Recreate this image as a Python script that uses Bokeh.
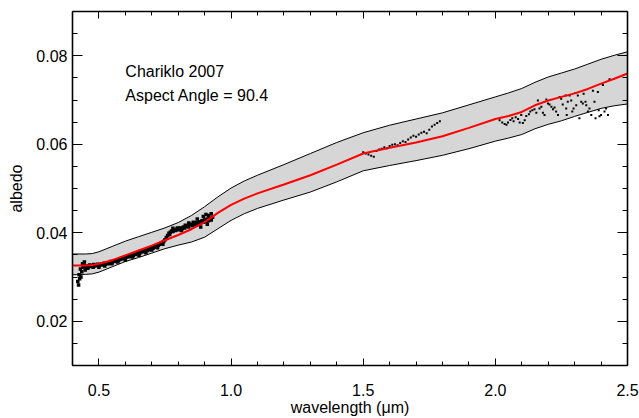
from bokeh.plotting import figure
from bokeh.models import LinearAxis, FixedTicker, PrintfTickFormatter, Label, Range1d
from bokeh.embed import file_html
from bokeh.resources import INLINE

# ---------------- data ----------------
# model curve nodes (wavelength, micron)
model_wl = [0.40, 0.45, 0.475, 0.50, 0.55, 0.60, 0.65, 0.70, 0.75, 0.80, 0.85, 0.90,
            0.95, 1.00, 1.05, 1.10, 1.20, 1.30, 1.40, 1.50, 1.60, 1.70, 1.80, 1.90,
            2.00, 2.05, 2.10, 2.15, 2.20, 2.25, 2.30, 2.35, 2.40, 2.45, 2.50]
model_albedo = [0.0326, 0.0326, 0.0327, 0.0330, 0.0338, 0.0349, 0.0360, 0.0371, 0.0383,
                0.0395, 0.0408, 0.0424, 0.0445, 0.0463, 0.0477, 0.0489, 0.0509, 0.0530,
                0.0554, 0.0579, 0.0592, 0.0604, 0.0618, 0.0637, 0.0657, 0.0664, 0.0673,
                0.0688, 0.0699, 0.0707, 0.0715, 0.0725, 0.0737, 0.0748, 0.0760]
upper_albedo = [0.0352, 0.0352, 0.0353, 0.0357, 0.0369, 0.0381, 0.0391, 0.0401, 0.0411,
                0.0423, 0.0439, 0.0459, 0.0481, 0.0501, 0.0517, 0.0530, 0.0554, 0.0579,
                0.0604, 0.0626, 0.0643, 0.0657, 0.0671, 0.0689, 0.0707, 0.0716, 0.0726,
                0.0740, 0.0752, 0.0761, 0.0770, 0.0781, 0.0792, 0.0801, 0.0809]
lower_albedo = [0.0305, 0.0306, 0.0307, 0.0311, 0.0323, 0.0335, 0.0344, 0.0354, 0.0364,
                0.0372, 0.0379, 0.0390, 0.0409, 0.0428, 0.0443, 0.0455, 0.0474, 0.0492,
                0.0515, 0.0540, 0.0552, 0.0563, 0.0575, 0.0590, 0.0607, 0.0614, 0.0622,
                0.0635, 0.0645, 0.0653, 0.0663, 0.0672, 0.0681, 0.0687, 0.0691]

# visible spectrum (dense)
vis_wl = [0.420, 0.425, 0.430, 0.435, 0.440, 0.445, 0.450, 0.455, 0.460, 0.465, 0.470,
          0.475, 0.480, 0.485, 0.490, 0.495, 0.500, 0.505, 0.510, 0.515, 0.520, 0.525,
          0.530, 0.535, 0.540, 0.545, 0.550, 0.555, 0.560, 0.565, 0.570, 0.575, 0.580,
          0.585, 0.590, 0.595, 0.600, 0.605, 0.610, 0.615, 0.620, 0.625, 0.630, 0.635,
          0.640, 0.645, 0.650, 0.655, 0.660, 0.665, 0.670, 0.675, 0.680, 0.685, 0.690,
          0.695, 0.700, 0.705, 0.710, 0.715, 0.720, 0.725, 0.730, 0.735, 0.740, 0.745,
          0.750, 0.755, 0.760, 0.765, 0.770, 0.775, 0.780, 0.785, 0.790, 0.795, 0.800,
          0.805, 0.810, 0.815, 0.820, 0.825, 0.830, 0.835, 0.840, 0.845, 0.850, 0.855,
          0.860, 0.865, 0.870, 0.875, 0.880, 0.885, 0.890, 0.895, 0.900, 0.905, 0.910,
          0.915, 0.920, 0.925, 0.930,
          0.423, 0.427, 0.432, 0.438, 0.445, 0.448, 0.458, 0.478, 0.500, 0.522, 0.548,
          0.572, 0.600, 0.628, 0.652, 0.678, 0.700, 0.722, 0.742, 0.768, 0.780, 0.797,
          0.812, 0.827, 0.840, 0.857, 0.872, 0.895, 0.905, 0.915, 0.925, 0.885, 0.910]
vis_albedo = [0.0290, 0.0305, 0.0318, 0.0312, 0.0322, 0.0326, 0.0321, 0.0325, 0.0323,
              0.0327, 0.0324, 0.0326, 0.0328, 0.0325, 0.0327, 0.0329, 0.0326, 0.0328,
              0.0330, 0.0327, 0.0331, 0.0329, 0.0332, 0.0330, 0.0333, 0.0335, 0.0332,
              0.0336, 0.0337, 0.0335, 0.0339, 0.0338, 0.0340, 0.0342, 0.0341, 0.0344,
              0.0343, 0.0345, 0.0347, 0.0346, 0.0348, 0.0350, 0.0349, 0.0352, 0.0351,
              0.0354, 0.0355, 0.0354, 0.0357, 0.0358, 0.0357, 0.0360, 0.0361, 0.0360,
              0.0363, 0.0364, 0.0366, 0.0365, 0.0368, 0.0370, 0.0369, 0.0372, 0.0374,
              0.0376, 0.0378, 0.0380, 0.0384, 0.0389, 0.0394, 0.0399, 0.0401, 0.0404,
              0.0403, 0.0406, 0.0405, 0.0408, 0.0407, 0.0410, 0.0411, 0.0409, 0.0413,
              0.0411, 0.0415, 0.0416, 0.0413, 0.0418, 0.0419, 0.0416, 0.0421, 0.0419,
              0.0423, 0.0420, 0.0425, 0.0422, 0.0427, 0.0424, 0.0429, 0.0425, 0.0431,
              0.0427, 0.0433, 0.0429, 0.0435,
              0.0282, 0.0296, 0.0300, 0.0330, 0.0334, 0.0316, 0.0320, 0.0322, 0.0322,
              0.0325, 0.0330, 0.0334, 0.0338, 0.0345, 0.0349, 0.0355, 0.0361, 0.0366,
              0.0374, 0.0396, 0.0410, 0.0411, 0.0405, 0.0417, 0.0422, 0.0424, 0.0431,
              0.0437, 0.0441, 0.0439, 0.0443, 0.0413, 0.0419]

# H band spectrum
h_wl = [1.500, 1.510, 1.520, 1.530, 1.540, 1.550, 1.560, 1.570, 1.580, 1.590, 1.600,
        1.610, 1.620, 1.630, 1.640, 1.650, 1.660, 1.670, 1.680, 1.690, 1.700, 1.710,
        1.720, 1.730, 1.740, 1.750, 1.760, 1.770, 1.780, 1.790]
h_albedo = [0.0582, 0.0579, 0.0577, 0.0574, 0.0572, 0.0585, 0.0588, 0.0590, 0.0593,
            0.0591, 0.0596, 0.0599, 0.0600, 0.0598, 0.0603, 0.0607, 0.0605, 0.0611,
            0.0615, 0.0619, 0.0617, 0.0622, 0.0626, 0.0628, 0.0625, 0.0633, 0.0640,
            0.0644, 0.0648, 0.0652]

# K band spectrum (scattered)
k_wl = [2.016, 2.026, 2.035, 2.042, 2.048, 2.057, 2.064, 2.069, 2.077, 2.086, 2.092,
        2.098, 2.104, 2.111, 2.117, 2.127, 2.132, 2.140, 2.148, 2.155, 2.161, 2.167,
        2.174, 2.180, 2.186, 2.193, 2.199, 2.205, 2.212, 2.218, 2.224, 2.230, 2.237,
        2.243, 2.249, 2.255, 2.266, 2.270, 2.274, 2.268, 2.281, 2.287, 2.291, 2.296,
        2.303, 2.306, 2.312, 2.318, 2.325, 2.331, 2.334, 2.341, 2.344, 2.350, 2.356,
        2.363, 2.369, 2.375, 2.379, 2.388, 2.391, 2.394, 2.400, 2.407, 2.413, 2.419,
        2.426, 2.432]
k_albedo = [0.0654, 0.0649, 0.0646, 0.0644, 0.0649, 0.0655, 0.0659, 0.0652, 0.0661,
            0.0657, 0.0649, 0.0666, 0.0648, 0.0654, 0.0664, 0.0668, 0.0674, 0.0677,
            0.0679, 0.0671, 0.0699, 0.0681, 0.0685, 0.0671, 0.0666, 0.0701, 0.0692,
            0.0690, 0.0685, 0.0679, 0.0683, 0.0674, 0.0666, 0.0707, 0.0703, 0.0690,
            0.0710, 0.0666, 0.0696, 0.0681, 0.0710, 0.0699, 0.0674, 0.0681, 0.0716,
            0.0688, 0.0710, 0.0659, 0.0696, 0.0692, 0.0714, 0.0696, 0.0688, 0.0674,
            0.0681, 0.0666, 0.0721, 0.0696, 0.0659, 0.0718, 0.0677, 0.0663, 0.0666,
            0.0734, 0.0674, 0.0681, 0.0666, 0.0747]

x_major = [0.5, 1.0, 1.5, 2.0, 2.5]
x_minor = [0.4, 0.6, 0.7, 0.8, 0.9, 1.1, 1.2, 1.3, 1.4, 1.6, 1.7, 1.8, 1.9,
           2.1, 2.2, 2.3, 2.4]
y_major = [0.02, 0.04, 0.06, 0.08]
y_minor = [0.01, 0.015, 0.025, 0.03, 0.035, 0.045, 0.05, 0.055, 0.065, 0.07,
           0.075, 0.085, 0.09]

title_lines = ["Chariklo 2007", "Aspect Angle = 90.4"]

FONT = "Liberation Sans"

p = figure(width=639, height=418, output_backend="svg", toolbar_location=None,
           x_range=Range1d(0.4, 2.5), y_range=Range1d(0.01, 0.09),
           min_border_left=72, min_border_right=12, min_border_top=11, min_border_bottom=45)
p.xgrid.visible = False
p.ygrid.visible = False
p.outline_line_color = None
p.background_fill_color = "white"
p.border_fill_color = "white"

# band
p.varea(x=model_wl, y1=lower_albedo, y2=upper_albedo, fill_color="#d6d6d6")
p.line(model_wl, upper_albedo, line_color="black", line_width=1)
p.line(model_wl, lower_albedo, line_color="black", line_width=1)

# data
p.scatter(vis_wl, vis_albedo, marker="square", size=3.5, fill_color="black", line_color=None)
p.scatter(h_wl, h_albedo, marker="square", size=2, fill_color="black", line_color=None)
p.scatter(k_wl, k_albedo, marker="square", size=2, fill_color="black", line_color=None)

# model
p.line(model_wl, model_albedo, line_color="red", line_width=2)

# annotations
p.add_layout(Label(x=0.6, y=0.0745, text=title_lines[0], text_font=FONT,
                   text_font_size="16px", text_color="black"))
p.add_layout(Label(x=0.6, y=0.0692, text=title_lines[1], text_font=FONT,
                   text_font_size="16px", text_color="black"))


def style(ax, major, minor, fmt, tick_in, minor_in, labels=True):
    ax.ticker = FixedTicker(ticks=major, minor_ticks=minor)
    ax.formatter = PrintfTickFormatter(format=fmt)
    ax.axis_line_color = "black"
    ax.axis_line_width = 1.6
    ax.major_tick_line_color = "black"
    ax.minor_tick_line_color = "black"
    ax.major_tick_in = tick_in
    ax.major_tick_out = 0
    ax.minor_tick_in = minor_in
    ax.minor_tick_out = 0
    ax.major_label_text_font = FONT
    ax.axis_label_text_font = FONT
    ax.axis_label_text_font_style = "normal"
    ax.axis_label_text_font_size = "16px"
    ax.axis_label_text_color = "black"
    if labels:
        ax.major_label_text_font_size = "16px"
        ax.major_label_text_color = "black"
    else:
        ax.major_label_text_font_size = "0px"
        ax.major_label_text_color = None
        ax.major_label_standoff = 0


xb = p.xaxis[0]
style(xb, x_major, x_minor, "%.1f", 7, 4)
xb.axis_label = "wavelength (μm)"
xb.major_label_standoff = 18
xb.axis_label_standoff = 0

yl = p.yaxis[0]
style(yl, y_major, y_minor, "%.2f", 10, 5)
yl.axis_label = "albedo"
yl.major_label_standoff = 5
yl.axis_label_standoff = 8

xt = LinearAxis()
style(xt, x_major, x_minor, "%.1f", 7, 4, labels=False)
p.add_layout(xt, "above")
yr = LinearAxis()
style(yr, y_major, y_minor, "%.2f", 10, 5, labels=False)
p.add_layout(yr, "right")

open("out.html", "w").write(file_html(p, INLINE))
